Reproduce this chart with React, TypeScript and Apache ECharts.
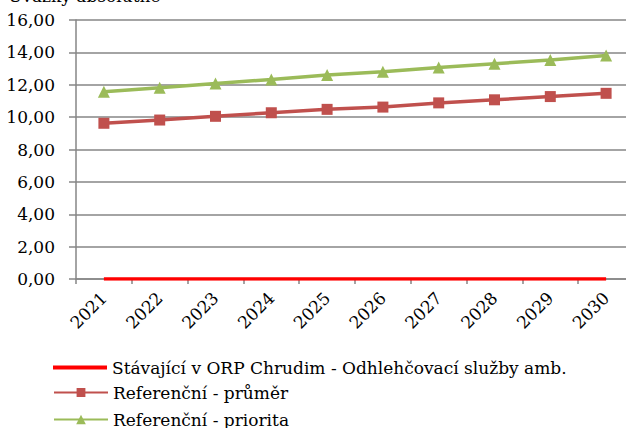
import React, { useEffect, useRef } from "react";
import * as echarts from "echarts";

const years = ["2021", "2022", "2023", "2024", "2025", "2026", "2027", "2028", "2029", "2030"];
const current = [0, 0, 0, 0, 0, 0, 0, 0, 0, 0];
const refAvg = [9.62, 9.82, 10.05, 10.27, 10.48, 10.62, 10.88, 11.07, 11.27, 11.47];
const refPriority = [11.57, 11.82, 12.08, 12.33, 12.6, 12.8, 13.06, 13.3, 13.53, 13.8];
const seriesNames = [
  "Stávající v ORP Chrudim - Odhlehčovací služby amb.",
  "Referenční - průměr",
  "Referenční - priorita",
];
const title = "Úvazky absolutně";

const FONT = "DejaVu Serif";
const FS = 17;

export default function App() {
  const ref = useRef<HTMLDivElement>(null);
  useEffect(() => {
    if (!ref.current) return;
    const chart = echarts.init(ref.current, null, { renderer: "svg" });
    const legendText = { fontFamily: FONT, fontSize: FS, color: "#000" };
    chart.setOption({
      animation: false,
      textStyle: { fontFamily: FONT, color: "#000" },
      graphic: [
        {
          type: "text",
          left: 8,
          top: -13,
          style: { text: title, fontFamily: FONT, fontSize: FS, fill: "#000" },
        },
      ],
      grid: { left: 76, top: 20, height: 259, width: 558 },
      legend: [
        {
          orient: "vertical",
          left: 53,
          top: 359,
          padding: 0,
          itemWidth: 54,
          itemHeight: 4,
          textStyle: legendText,
          data: [{ name: seriesNames[0], icon: "rect" }],
        },
        {
          orient: "vertical",
          left: 53,
          top: 384,
          padding: 0,
          itemWidth: 54,
          itemHeight: 11,
          textStyle: legendText,
          data: [seriesNames[1]],
        },
        {
          orient: "vertical",
          left: 53,
          top: 411,
          padding: 0,
          itemWidth: 54,
          itemHeight: 12,
          textStyle: legendText,
          data: [seriesNames[2]],
        },
      ],
      xAxis: {
        type: "category",
        data: years,
        boundaryGap: true,
        axisLine: { lineStyle: { color: "#868686", width: 1.5 } },
        axisTick: { show: true, length: 5, lineStyle: { color: "#868686", width: 1.5 } },
        axisLabel: { rotate: 45, fontSize: FS, color: "#000", fontFamily: FONT, margin: 16 },
      },
      yAxis: {
        type: "value",
        min: 0,
        max: 16,
        interval: 2,
        axisLine: { show: true, lineStyle: { color: "#868686", width: 1.5 } },
        axisTick: { show: true, length: 7, lineStyle: { color: "#868686", width: 1.5 } },
        splitLine: { lineStyle: { color: "#868686", width: 1.5 } },
        axisLabel: {
          fontSize: FS,
          color: "#000",
          fontFamily: FONT,
          margin: 21,
          formatter: (v: number) => v.toFixed(2).replace(".", ","),
        },
      },
      series: [
        {
          name: seriesNames[0],
          type: "line",
          data: current,
          symbol: "none",
          lineStyle: { color: "#FF0000", width: 3.5 },
          itemStyle: { color: "#FF0000" },
        },
        {
          name: seriesNames[1],
          type: "line",
          data: refAvg,
          symbol: "rect",
          symbolSize: 11,
          lineStyle: { color: "#C0504D", width: 3.5 },
          itemStyle: { color: "#C0504D" },
        },
        {
          name: seriesNames[2],
          type: "line",
          data: refPriority,
          symbol: "triangle",
          symbolSize: 12,
          lineStyle: { color: "#9BBB59", width: 3.5 },
          itemStyle: { color: "#9BBB59" },
        },
      ],
    });
    return () => chart.dispose();
  }, []);
  return (
    <div style={{ width: 626, height: 428, position: "absolute", left: 0, top: 0, overflow: "hidden" }}>
      <div ref={ref} style={{ width: 640, height: 428 }} />
    </div>
  );
}
